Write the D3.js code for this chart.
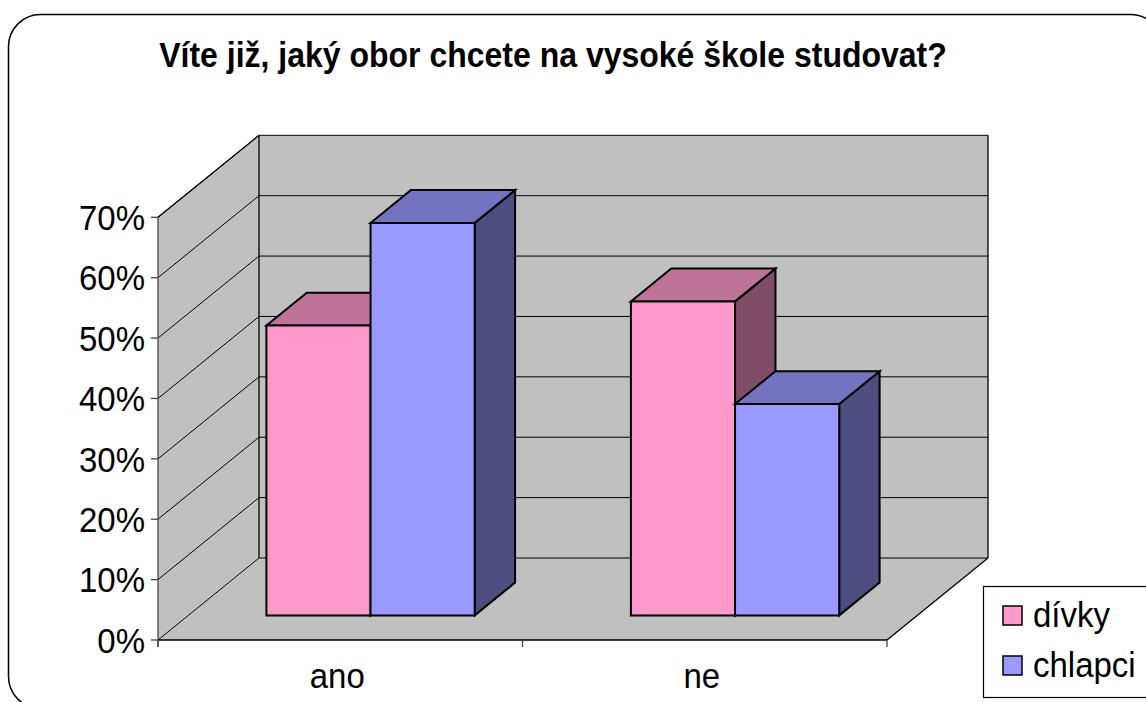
<!DOCTYPE html>
<html>
<head>
<meta charset="utf-8">
<script src="https://cdn.jsdelivr.net/npm/d3@7"></script>
<style>
  body { margin: 0; background: #fff; }
  text { font-family: "Liberation Sans", Arial, sans-serif; }
</style>
</head>
<body>
<div id="chart_div"></div>
<script>
// data
var categories = ["ano", "ne"];
var series_names = ["dívky", "chlapci"];
var divky = [0.48, 0.52];
var chlapci = [0.65, 0.35];
var tick_values = [0, 0.1, 0.2, 0.3, 0.4, 0.5, 0.6, 0.7];
var title_text = "Víte již, jaký obor chcete na vysoké škole studovat?";

var front_colors = ["#FF99CC", "#9999FF"];
var top_colors = ["#BF7399", "#7373BF"];
var side_colors = ["#804D66", "#4D4D80"];

var TEXT_STRETCH = 1.07; // the original text is a bit taller than Arial

var chart_setup = function () {
    var svg = d3.select("#chart_div").append("svg")
        .attr("width", 1146)
        .attr("height", 702);

    // stretched text helper
    var put_text = function (sel, tx, ty) {
        return sel.attr("transform", "translate(" + tx + "," + ty + ") scale(1," + TEXT_STRETCH + ")");
    };

    // outer rounded frame
    svg.append("rect")
        .attr("x", 8.5).attr("y", 14.5)
        .attr("width", 1154).attr("height", 694)
        .attr("rx", 32).attr("ry", 32)
        .attr("fill", "#fff")
        .attr("stroke", "#000")
        .attr("stroke-width", 1.5);

    put_text(svg.append("text"), 553, 67)
        .attr("text-anchor", "middle")
        .attr("font-size", 32)
        .attr("font-weight", "bold")
        .text(title_text);

    // 3d plot geometry
    var ox = 158, oy = 640;      // front-left-bottom corner
    var W = 729;                 // front plane width
    var DX = 101, DY = 82;       // depth offset
    var bar_z0 = 0.3, bar_z1 = 0.7;

    var y = d3.scaleLinear().domain([0, 0.7]).range([0, 422.7]);
    // gap width 150%: gap = 1.5 bar widths, group = 2 bars
    var x = d3.scaleBand().domain(categories).range([0, W])
        .paddingInner(1.5 / 3.5).paddingOuter(0.75 / 3.5);
    var xs = d3.scaleBand().domain(series_names).range([0, x.bandwidth()]);
    var H = y(0.7);

    var proj = function (px, h, z) {
        return [ox + px + z * DX, oy - h - z * DY];
    };
    var poly = function (pts) {
        return "M" + pts.map(function (p) { return p[0] + "," + p[1]; }).join("L") + "Z";
    };

    var g = svg.append("g");

    // floor, side wall, back wall
    g.append("path")
        .attr("d", poly([proj(0, 0, 0), proj(W, 0, 0), proj(W, 0, 1), proj(0, 0, 1)]))
        .attr("fill", "#C0C0C0").attr("stroke", "none");
    g.append("path")
        .attr("d", poly([proj(0, 0, 0), proj(0, 0, 1), proj(0, H, 1), proj(0, H, 0)]))
        .attr("fill", "#C0C0C0").attr("stroke", "none");
    g.append("path")
        .attr("d", poly([proj(0, 0, 1), proj(W, 0, 1), proj(W, H, 1), proj(0, H, 1)]))
        .attr("fill", "#C0C0C0").attr("stroke", "none");

    // gridlines on side + back walls
    g.selectAll(".grid")
        .data(tick_values)
        .enter().append("path")
        .attr("class", "grid")
        .attr("d", function (d) {
            var a = proj(0, y(d), 0), b = proj(0, y(d), 1), c = proj(W, y(d), 1);
            return "M" + a + "L" + b + "L" + c;
        })
        .attr("fill", "none")
        .attr("stroke", "#000")
        .attr("stroke-width", 1);

    // wall edges
    var edges = [
        [proj(0, 0, 1), proj(0, H, 1)],
        [proj(W, 0, 1), proj(W, H, 1)],
        [proj(0, H, 0), proj(0, H, 1)],
        [proj(W, 0, 0), proj(W, 0, 1)],
        [proj(0, 0, 0), proj(W, 0, 0)]
    ];
    g.selectAll(".edge")
        .data(edges)
        .enter().append("path")
        .attr("class", "edge")
        .attr("d", function (d) { return "M" + d[0] + "L" + d[1]; })
        .attr("stroke", "#000")
        .attr("stroke-width", 1.3);

    // bars, drawn left to right
    var bars = [];
    categories.forEach(function (c, i) {
        [divky, chlapci].forEach(function (vals, j) {
            bars.push({ cat: c, s: j, v: vals[i] });
        });
    });

    var bar_g = g.selectAll(".bar")
        .data(bars)
        .enter().append("g")
        .attr("class", "bar");

    var x0 = function (d) { return x(d.cat) + xs(series_names[d.s]); };
    var x1 = function (d) { return x0(d) + xs.bandwidth(); };

    bar_g.append("path")
        .attr("d", function (d) {
            var h = y(d.v);
            return poly([proj(x1(d), 0, bar_z0), proj(x1(d), 0, bar_z1), proj(x1(d), h, bar_z1), proj(x1(d), h, bar_z0)]);
        })
        .attr("fill", function (d) { return side_colors[d.s]; });
    bar_g.append("path")
        .attr("d", function (d) {
            var h = y(d.v);
            return poly([proj(x0(d), h, bar_z0), proj(x1(d), h, bar_z0), proj(x1(d), h, bar_z1), proj(x0(d), h, bar_z1)]);
        })
        .attr("fill", function (d) { return top_colors[d.s]; });
    bar_g.append("path")
        .attr("d", function (d) {
            var h = y(d.v);
            return poly([proj(x0(d), 0, bar_z0), proj(x1(d), 0, bar_z0), proj(x1(d), h, bar_z0), proj(x0(d), h, bar_z0)]);
        })
        .attr("fill", function (d) { return front_colors[d.s]; });
    bar_g.selectAll("path")
        .attr("stroke", "#000")
        .attr("stroke-width", 2)
        .attr("stroke-linejoin", "miter");

    // value axis
    var axis_g = svg.append("g");
    axis_g.append("line")
        .attr("x1", ox).attr("x2", ox)
        .attr("y1", oy - H).attr("y2", oy + 7)
        .attr("stroke", "#444").attr("stroke-width", 1.3);
    axis_g.selectAll(".ytick")
        .data(tick_values)
        .enter().append("line")
        .attr("x1", ox - 7).attr("x2", ox)
        .attr("y1", function (d) { return oy - y(d); })
        .attr("y2", function (d) { return oy - y(d); })
        .attr("stroke", "#444").attr("stroke-width", 1.3);
    axis_g.selectAll(".ylab")
        .data(tick_values)
        .enter().append("text")
        .each(function (d) { put_text(d3.select(this), ox - 13, oy - y(d)); })
        .attr("dy", "0.36em")
        .attr("text-anchor", "end")
        .attr("font-size", 33)
        .text(d3.format(".0%"));

    // category axis
    var cat_ticks = [0, W / 2, W];
    axis_g.selectAll(".xtick")
        .data(cat_ticks)
        .enter().append("line")
        .attr("x1", function (d) { return ox + d; })
        .attr("x2", function (d) { return ox + d; })
        .attr("y1", oy).attr("y2", oy + 7)
        .attr("stroke", "#444").attr("stroke-width", 1.3);
    axis_g.selectAll(".xlab")
        .data(categories)
        .enter().append("text")
        .each(function (d, i) { put_text(d3.select(this), ox + (i + 0.5) * W / 2 - 3, 688); })
        .attr("text-anchor", "middle")
        .attr("font-size", 33)
        .text(function (d) { return d; });

    // legend
    var lg = svg.append("g");
    lg.append("rect")
        .attr("x", 983.5).attr("y", 586.5)
        .attr("width", 170).attr("height", 111)
        .attr("fill", "#fff")
        .attr("stroke", "#000").attr("stroke-width", 1.2);
    var items = lg.selectAll(".item")
        .data(series_names)
        .enter().append("g")
        .attr("transform", function (d, i) { return "translate(1003," + (606 + i * 50) + ")"; });
    items.append("rect")
        .attr("width", 19).attr("height", 19)
        .attr("fill", function (d, i) { return front_colors[i]; })
        .attr("stroke", "#000").attr("stroke-width", 1.5);
    items.append("text")
        .each(function () { put_text(d3.select(this), 30, 21); })
        .attr("font-size", 33)
        .text(function (d) { return d; });
};

chart_setup();
</script>
</body>
</html>
